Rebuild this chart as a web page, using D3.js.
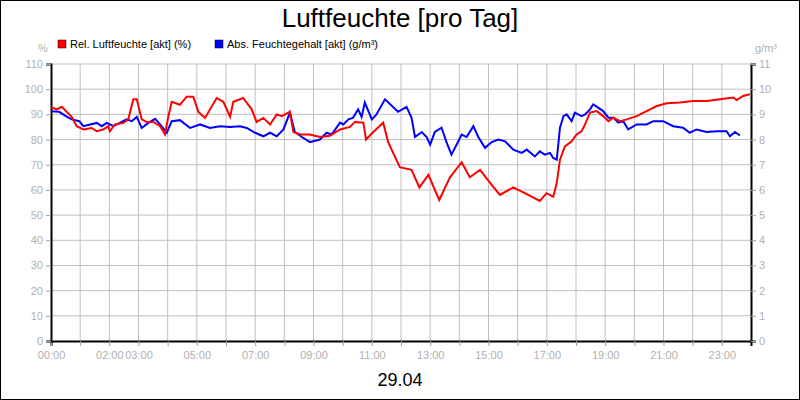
<!DOCTYPE html>
<html>
<head>
<meta charset="utf-8">
<script src="https://cdn.jsdelivr.net/npm/d3@7"></script>
<style>
  body { margin: 0; background: #fff; }
  text { font-family: 'Liberation Sans', Arial, sans-serif; }
</style>
</head>
<body>
<div id="chart"></div>
<script>
// hours of day and relative humidity (%)
var relHours = [0, 0.19, 0.37, 0.54, 0.71, 0.88, 1.11, 1.39, 1.57, 1.79, 1.97, 2.02, 2.19, 2.48, 2.65, 2.82, 2.94, 3.11, 3.28, 3.51, 3.74, 3.91, 4.02, 4.14, 4.42, 4.65, 4.88, 5.05, 5.28, 5.68, 5.91, 6.14, 6.25, 6.59, 6.88, 7.05, 7.28, 7.51, 7.74, 7.91, 8.19, 8.31, 8.54, 8.88, 9.22, 9.56, 9.91, 10.25, 10.42, 10.71, 10.8, 11.05, 11.39, 11.56, 11.96, 12.36, 12.63, 12.94, 13.31, 13.68, 14.08, 14.36, 14.71, 15.11, 15.39, 15.85, 16.36, 16.76, 16.99, 17.22, 17.34, 17.45, 17.62, 17.85, 18.02, 18.19, 18.31, 18.48, 18.71, 18.93, 19.11, 19.28, 19.51, 19.74, 20.08, 20.42, 20.77, 21.11, 21.56, 22.02, 22.48, 22.93, 23.39, 23.51, 23.73, 23.96]
var relValues = [92.8, 92, 93, 91, 89, 85.3, 84, 84.6, 83.3, 84, 85.3, 83.3, 86, 86.6, 88, 96, 96, 88, 87, 87, 85.3, 82, 89, 95, 93.8, 97, 97, 91, 88.6, 96.5, 95, 89, 95, 96.5, 92, 87, 88.6, 86, 90, 89.3, 91, 83, 82, 82, 81, 81.5, 84, 85, 87, 86.7, 80, 83, 86.7, 79, 69, 68, 61, 66, 56, 65, 71, 65, 68, 62, 58, 61, 58, 55.6, 58.7, 57.3, 62.7, 72, 77.3, 79.3, 82, 83.3, 86, 90.7, 91.3, 89.3, 87.3, 88.7, 87.3, 88, 89.3, 91.3, 93.3, 94.4, 94.7, 95.3, 95.3, 96, 96.7, 95.7, 97.3, 98]

// hours of day and absolute humidity (g/m³)
var absHours = [0, 0.28, 0.51, 0.71, 0.97, 1.11, 1.34, 1.57, 1.74, 1.91, 2.14, 2.36, 2.59, 2.77, 2.94, 3.11, 3.34, 3.57, 3.74, 3.97, 4.14, 4.42, 4.77, 5.11, 5.45, 5.79, 6.14, 6.48, 6.71, 7.0, 7.28, 7.51, 7.74, 7.97, 8.19, 8.36, 8.6, 8.88, 9.22, 9.45, 9.62, 9.91, 10.02, 10.2, 10.36, 10.53, 10.65, 10.76, 11.0, 11.16, 11.45, 11.9, 12.19, 12.36, 12.48, 12.71, 12.88, 13.0, 13.16, 13.39, 13.56, 13.73, 13.94, 14.08, 14.25, 14.48, 14.65, 14.88, 15.11, 15.34, 15.57, 15.85, 16.14, 16.31, 16.59, 16.76, 16.93, 17.11, 17.22, 17.34, 17.45, 17.57, 17.68, 17.85, 17.96, 18.19, 18.31, 18.48, 18.59, 18.76, 18.93, 19.11, 19.28, 19.45, 19.62, 19.79, 20.08, 20.42, 20.65, 20.99, 21.33, 21.67, 21.9, 22.13, 22.48, 22.82, 23.16, 23.28, 23.45, 23.62]
var absValues = [9.12, 9.1, 8.93, 8.8, 8.73, 8.53, 8.6, 8.66, 8.53, 8.66, 8.53, 8.66, 8.8, 8.73, 8.9, 8.46, 8.66, 8.82, 8.6, 8.27, 8.73, 8.77, 8.46, 8.6, 8.46, 8.53, 8.5, 8.53, 8.46, 8.27, 8.13, 8.27, 8.13, 8.4, 9.06, 8.3, 8.1, 7.9, 8.0, 8.27, 8.2, 8.67, 8.6, 8.8, 8.87, 9.2, 8.9, 9.47, 8.8, 9.0, 9.6, 9.1, 9.3, 8.87, 8.1, 8.3, 8.1, 7.8, 8.3, 8.47, 7.9, 7.4, 7.87, 8.2, 8.1, 8.53, 8.1, 7.67, 7.9, 8.0, 7.93, 7.6, 7.47, 7.6, 7.33, 7.53, 7.4, 7.47, 7.27, 7.2, 8.47, 8.93, 9.0, 8.73, 9.07, 8.93, 9.0, 9.2, 9.4, 9.27, 9.13, 8.87, 8.87, 8.67, 8.73, 8.4, 8.6, 8.6, 8.73, 8.73, 8.53, 8.47, 8.27, 8.4, 8.3, 8.33, 8.33, 8.13, 8.3, 8.16]

var hourTicks = d3.range(0, 24)
var hourLabels = [0, 2, 3, 5, 7, 9, 11, 13, 15, 17, 19, 21, 23]
var leftTicks = d3.range(0, 111, 10)
var rightTicks = d3.range(0, 12, 1)

var W = 800, H = 400
var margin = { top: 64, left: 51, right: 49, bottom: 59 }
var width = W - margin.left - margin.right
var height = H - margin.top - margin.bottom

var root = d3.select('#chart').append('svg').attr('width', W).attr('height', H)
root.append('rect').attr('x', 0.5).attr('y', 0.5).attr('width', W - 1).attr('height', H - 1)
  .attr('fill', '#fff').attr('stroke', '#000')

var svg = root.append('g').attr('transform', 'translate(' + margin.left + ',' + margin.top + ')')

var x = d3.scaleLinear().domain([0, 24]).range([0, width])
var yL = d3.scaleLinear().domain([0, 110]).range([height, 0])
var yR = d3.scaleLinear().domain([0, 11]).range([height, 0])

// grid
svg.selectAll('.vgrid').data(hourTicks.slice(1)).enter().append('line')
  .attr('x1', d => x(d)).attr('x2', d => x(d)).attr('y1', 0).attr('y2', height)
  .attr('stroke', '#c0c0c0')
svg.selectAll('.hgrid').data(leftTicks.slice(1)).enter().append('line')
  .attr('x1', 0).attr('x2', width).attr('y1', d => yL(d)).attr('y2', d => yL(d))
  .attr('stroke', '#c0c0c0')

// axes
var gx = svg.append('g').attr('transform', 'translate(0,' + height + ')')
  .call(d3.axisBottom(x).tickValues(hourTicks).tickSize(5).tickFormat(d => hourLabels.includes(d) ? d3.format('02')(d) + ':00' : ''))
var gl = svg.append('g').call(d3.axisLeft(yL).tickValues(leftTicks).tickSize(5))
var gr = svg.append('g').attr('transform', 'translate(' + width + ',0)')
  .call(d3.axisRight(yR).tickValues(rightTicks).tickSize(5))
;[gx, gl, gr].forEach(g => {
  g.select('.domain').attr('stroke', '#000').attr('stroke-width', 2)
  g.selectAll('.tick line').attr('stroke', '#a0a0a0')
  g.selectAll('.tick text').attr('fill', '#b0b0b0').attr('font-size', 11)
    .attr('font-family', "'Liberation Sans', Arial, sans-serif")
})
gx.selectAll('.tick text').attr('dy', '0.9em')

// lines
var relLine = d3.line().x((d, i) => x(relHours[i])).y(d => yL(d))
var absLine = d3.line().x((d, i) => x(absHours[i])).y(d => yR(d))
svg.append('path').datum(absValues).attr('d', absLine)
  .attr('fill', 'none').attr('stroke', '#0000ff').attr('stroke-width', 2)
svg.append('path').datum(relValues).attr('d', relLine)
  .attr('fill', 'none').attr('stroke', '#ff0000').attr('stroke-width', 2)

// titles
root.append('text').attr('x', W / 2).attr('y', 27).attr('text-anchor', 'middle')
  .attr('font-size', 26).text('Luftfeuchte [pro Tag]')
root.append('text').attr('x', W / 2).attr('y', 386).attr('text-anchor', 'middle')
  .attr('font-size', 18).text('29.04')
root.append('text').attr('x', 43).attr('y', 52).attr('text-anchor', 'middle')
  .attr('font-size', 11).attr('fill', '#b0b0b0').text('%')
root.append('text').attr('x', 766).attr('y', 52).attr('text-anchor', 'middle')
  .attr('font-size', 11).attr('fill', '#b0b0b0').text('g/m³')

// legend
var legend = [
  { label: 'Rel. Luftfeuchte [akt] (%)', color: '#ff0000', x: 58 },
  { label: 'Abs. Feuchtegehalt [akt] (g/m³)', color: '#0000ff', x: 215 }
]
var lg = root.selectAll('.leg').data(legend).enter().append('g')
  .attr('transform', d => 'translate(' + d.x + ',40)')
lg.append('rect').attr('width', 8).attr('height', 8).attr('fill', d => d.color)
  .attr('stroke', '#000').attr('stroke-width', 0.5)
lg.append('text').attr('x', 12).attr('y', 8).attr('font-size', 11).text(d => d.label)
</script>
</body>
</html>
